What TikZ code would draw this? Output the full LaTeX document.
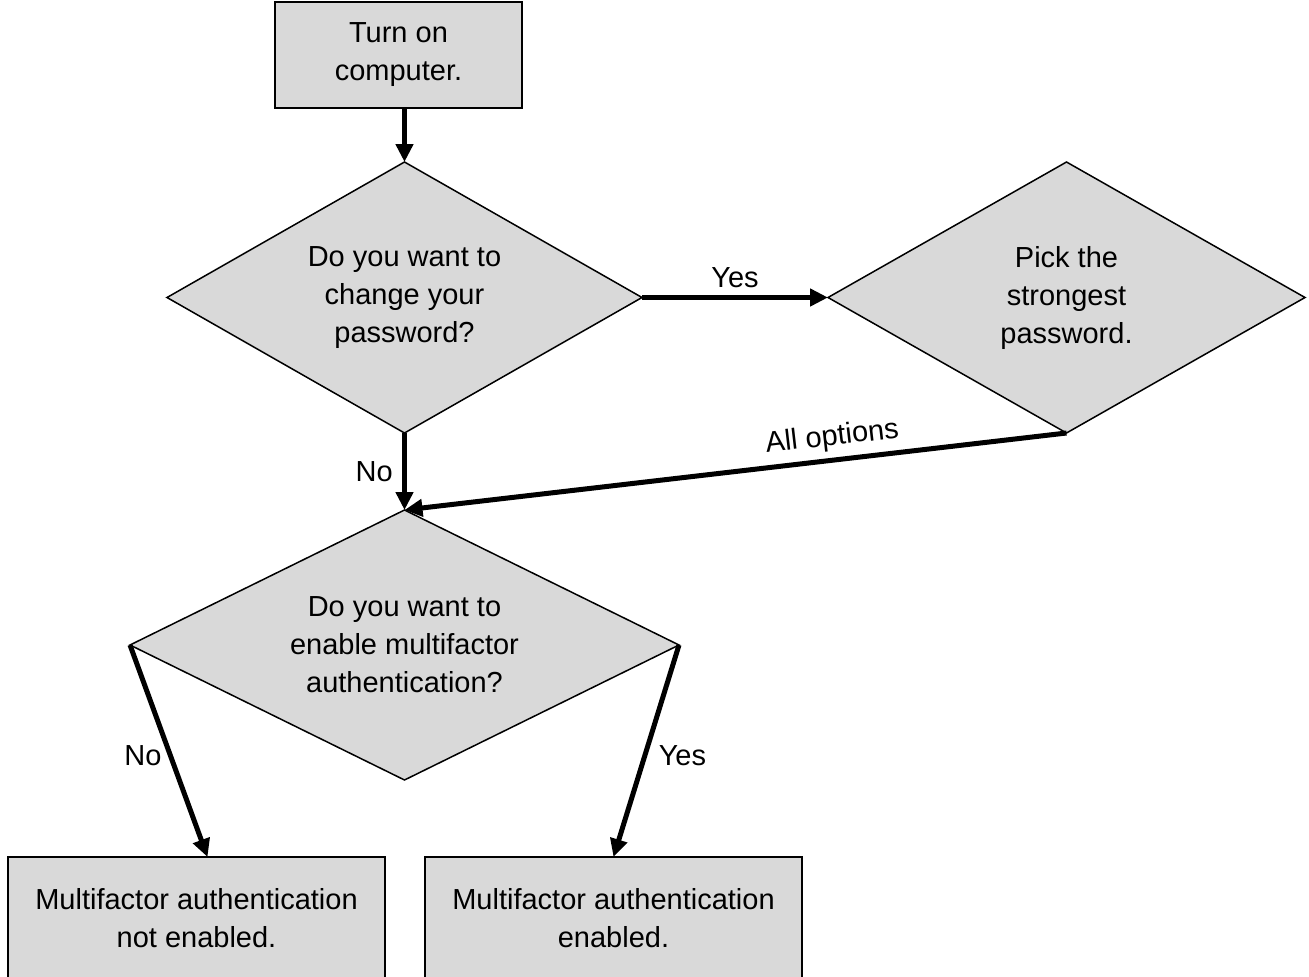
\documentclass[tikz,border=0pt]{standalone}
\usepackage{fontspec}
\setmainfont{Liberation Sans}
\usetikzlibrary{shapes.geometric,arrows.meta,calc}
\definecolor{boxgray}{HTML}{D9D9D9}
\begin{document}
\begin{tikzpicture}[x=1pt,y=-1pt,
  txt/.style={font=\fontsize{29}{38}\selectfont, align=center},
  procbox/.style={txt, draw=black, line width=2pt, fill=boxgray, inner sep=0pt, outer sep=0pt},
  decision/.style={txt, diamond, draw=black, line width=1.5pt, fill=boxgray, inner sep=0pt, outer sep=0pt},
  conn/.style={line width=5pt, -{Triangle[length=18pt,width=17pt]}},
  lbl/.style={txt}
]
\useasboundingbox (0,0) rectangle (1309,977);
\node[procbox, minimum width=247pt, minimum height=106pt] (start) at (398.5,55) {Turn on\\computer.};
\node[decision, minimum width=475pt, minimum height=271pt, aspect=1.753] (d1) at (404.5,297.5) {Do you want to\\change your\\password?};
\node[decision, minimum width=477pt, minimum height=271pt, aspect=1.76] (d2) at (1066.5,297.5) {Pick the\\strongest\\password.};
\node[decision, minimum width=549pt, minimum height=270pt, aspect=2.033] (d3) at (404.5,645) {Do you want to\\enable multifactor\\authentication?};
\node[procbox, minimum width=377pt, minimum height=122pt] (b1) at (196.5,918) {Multifactor authentication\\not enabled.};
\node[procbox, minimum width=377pt, minimum height=122pt] (b2) at (613.5,918) {Multifactor authentication\\enabled.};
\coordinate (b1in) at ($(b1.north)+(11,0)$);
\draw[conn] (start.south -| d1.north) -- (d1.north);
\draw[conn] (d1.east) -- node[lbl, above=4pt] {Yes} (d2.west);
\draw[conn] (d1.south) -- node[lbl, left=6pt] {No} (d3.north);
\draw[conn] (d2.south) -- node[lbl, pos=0.35, above=3pt, sloped] {All options} (d3.north);
\draw[conn] (d3.west) -- node[lbl, pos=0.52, left=3pt] {No} (b1in);
\draw[conn] (d3.east) -- node[lbl, pos=0.52, right=8pt] {Yes} (b2.north);
\end{tikzpicture}
\end{document}
